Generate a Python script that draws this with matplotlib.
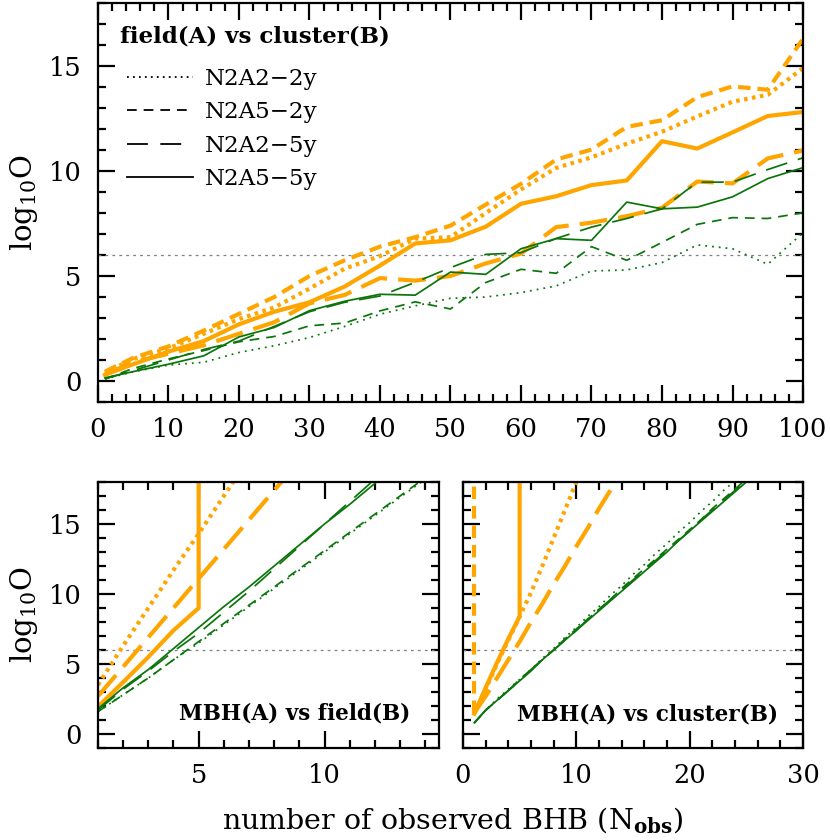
import matplotlib
matplotlib.use("Agg")
import matplotlib.pyplot as plt
from matplotlib.lines import Line2D
from matplotlib.ticker import MultipleLocator

plt.rcParams['font.family'] = ['DejaVu Serif']
plt.rcParams['lines.scale_dashes'] = False
plt.rcParams['mathtext.fontset'] = 'dejavuserif'

ORANGE = '#FFA500'
GREEN = '#0b750b'

# ---------------- data: top panel (field vs cluster) ----------------
top_x = [1, 5, 10, 15, 20, 25, 30, 35, 40, 45, 50, 55, 60, 65, 70, 75, 80, 85, 90, 95, 100]
top_or_n2a2_2y = [0.4, 1.05, 1.55, 2.25, 2.95, 3.5, 4.4, 5.35, 5.95, 6.78, 6.85, 8.0, 9.12, 10.15, 10.65, 11.3, 11.87, 12.6, 13.3, 13.63, 14.9]
top_or_n2a5_2y = [0.45, 1.1, 1.65, 2.4, 3.2, 4.0, 5.0, 5.75, 6.4, 6.85, 7.4, 8.4, 9.39, 10.55, 11.02, 12.1, 12.42, 13.52, 14.03, 13.87, 16.3]
top_or_n2a2_5y = [0.3, 0.9, 1.3, 1.7, 2.25, 2.8, 3.7, 4.1, 4.9, 4.78, 5.0, 5.6, 6.07, 7.33, 7.54, 7.85, 8.25, 9.5, 9.41, 10.6, 10.98]
top_or_n2a5_5y = [0.3, 0.8, 1.4, 1.9, 2.7, 3.3, 3.75, 4.5, 5.5, 6.55, 6.7, 7.35, 8.44, 8.8, 9.33, 9.55, 11.42, 11.07, 11.84, 12.62, 12.81]
top_gr_n2a2_2y = [0.1, 0.44, 0.76, 0.89, 1.36, 1.68, 2.07, 2.6, 3.18, 3.58, 3.94, 4.0, 4.21, 4.53, 5.24, 5.29, 5.64, 6.48, 6.3, 5.56, 7.06]
top_gr_n2a5_2y = [0.1, 0.6, 1.05, 1.45, 1.87, 2.12, 2.63, 2.76, 3.34, 3.77, 3.43, 4.69, 5.32, 5.13, 6.4, 5.75, 6.6, 7.46, 7.78, 7.74, 8.01]
top_gr_n2a2_5y = [0.1, 0.5, 1.0, 1.5, 1.9, 2.6, 3.3, 3.75, 4.05, 4.7, 5.4, 6.03, 6.11, 6.79, 7.33, 7.74, 8.2, 9.47, 9.47, 10.07, 10.63]
top_gr_n2a5_5y = [0.15, 0.45, 0.8, 1.2, 2.1, 2.55, 3.35, 3.8, 4.13, 4.09, 5.19, 5.08, 6.3, 6.78, 6.7, 8.52, 8.2, 8.28, 8.77, 9.64, 10.16]

# ---------------- data: bottom-left (MBH vs field) ----------------
bl_or_n2a2_2y_x = [1, 2, 3, 4, 5, 6, 7]
bl_or_n2a2_2y = [3.5, 6.3, 9.0, 11.7, 14.3, 17.0, 19.7]
bl_or_n2a2_5y_x = [1, 2, 3, 4, 5, 6, 7, 8, 9]
bl_or_n2a2_5y = [2.7, 4.8, 6.9, 9.0, 11.1, 13.2, 15.3, 17.4, 19.5]
bl_or_n2a5_5y_x = [1, 2, 3, 4, 5, 5]
bl_or_n2a5_5y = [1.95, 3.7, 5.5, 7.4, 9.0, 40.0]
bl_gr_x = [1, 2, 3, 4, 5, 6, 7, 8, 9, 10, 11, 12, 13, 14]
bl_gr_n2a2_2y = [1.6, 2.8, 4.0, 5.3, 6.5, 7.8, 9.1, 10.4, 11.7, 13.0, 14.3, 15.6, 16.9, 18.2]
bl_gr_n2a5_2y = [1.6, 2.8, 4.0, 5.3, 6.6, 7.9, 9.2, 10.5, 11.8, 13.1, 14.4, 15.7, 17.0, 18.3]
bl_gr_n2a2_5y = [1.7, 3.2, 4.5, 5.9, 7.2, 8.7, 10.2, 11.8, 13.4, 15.0, 16.6, 18.2, 19.8, 21.4]
bl_gr_n2a5_5y = [1.8, 3.3, 4.6, 6.1, 7.6, 9.1, 10.5, 12.0, 13.5, 15.0, 16.4, 17.9, 19.4, 20.9]

# ---------------- data: bottom-right (MBH vs cluster) ----------------
br_or_n2a2_2y_x = [1, 2, 3, 4, 5, 6, 7, 8, 9, 10, 11]
br_or_n2a2_2y = [1.5, 3.2, 5.0, 6.7, 8.4, 10.1, 12.0, 14.0, 16.0, 18.0, 20.0]
br_or_n2a5_2y_x = [1, 1]
br_or_n2a5_2y = [1.5, 40.0]
br_or_n2a2_5y_x = [1, 2, 3, 4, 5, 6, 7, 8, 9, 10, 11, 12, 13, 14]
br_or_n2a2_5y = [1.5, 2.7, 4.0, 5.3, 6.6, 8.0, 9.3, 10.7, 12.0, 13.4, 14.7, 16.1, 17.4, 18.8]
br_or_n2a5_5y_x = [1, 2, 3, 4, 5, 5]
br_or_n2a5_5y = [1.45, 3.3, 5.1, 6.8, 8.4, 40.0]
br_gr_x = [1, 2, 3, 4, 5, 6, 7, 8, 9, 10, 11, 12, 13, 14, 15, 16, 17, 18, 19, 20, 21, 22, 23, 24, 25, 26]
br_gr_n2a2_2y = [0.8, 1.7, 2.5, 3.2, 3.9, 4.6, 5.4, 6.1, 6.9, 7.6, 8.4, 9.1, 9.9, 10.6, 11.4, 12.1, 12.9, 13.6, 14.4, 15.1, 15.9, 16.6, 17.4, 18.1, 18.9, 19.6]
br_gr_n2a5_2y = [0.8, 1.7, 2.4, 3.1, 3.9, 4.6, 5.3, 6.0, 6.8, 7.5, 8.2, 8.9, 9.6, 10.4, 11.1, 11.8, 12.5, 13.2, 13.9, 14.6, 15.3, 16.1, 16.8, 17.5, 18.2, 18.9]
br_gr_n2a2_5y = [0.8, 1.7, 2.4, 3.1, 3.8, 4.6, 5.3, 6.0, 6.7, 7.4, 8.2, 8.9, 9.6, 10.3, 11.0, 11.7, 12.4, 13.1, 13.8, 14.5, 15.3, 16.0, 16.7, 17.4, 18.1, 18.8]
br_gr_n2a5_5y = [0.8, 1.7, 2.4, 3.1, 3.8, 4.5, 5.3, 6.0, 6.7, 7.4, 8.1, 8.8, 9.5, 10.2, 10.9, 11.6, 12.3, 13.0, 13.8, 14.5, 15.2, 15.9, 16.6, 17.3, 18.0, 18.7]

legend_title = 'field(A) vs cluster(B)'
legend_labels = ['N2A2\u22122y', 'N2A5\u22122y', 'N2A2\u22125y', 'N2A5\u22125y']
threshold = 6

# ---------------- styles ----------------
LW_OR = 3.0
LW_GR = 1.25
ST_OR = {'dot': (0, (2.6, 3.2)), 'short': (0, (9, 5)), 'long': (0, (20, 8)), 'solid': '-'}
ST_GR = {'dot': (0, (1.3, 3.6)), 'short': (0, (7, 5)), 'long': (0, (16, 8)), 'solid': '-'}
ST_LEG = {'dot': (0, (1.3, 3.0)), 'short': (0, (7, 5)), 'long': (0, (15, 9)), 'solid': '-'}

fig = plt.figure(figsize=(8.3, 8.4), dpi=100)
ax_top = fig.add_axes([0.118, 0.5214, 0.8495, 0.4750])
ax_bl = fig.add_axes([0.118, 0.1095, 0.411, 0.3167])
ax_br = fig.add_axes([0.5578, 0.1095, 0.4097, 0.3167])

TICKFS = 18.5
YLABFS = 21


def style_axis(ax, xmaj, xmin, ymaj=5, ymin=1, ylabels=True):
    ax.xaxis.set_major_locator(MultipleLocator(xmaj))
    ax.xaxis.set_minor_locator(MultipleLocator(xmin))
    ax.yaxis.set_major_locator(MultipleLocator(ymaj))
    ax.yaxis.set_minor_locator(MultipleLocator(ymin))
    ax.tick_params(which='both', direction='in', top=True, right=True, width=1.6,
                   labelsize=TICKFS)
    ax.tick_params(axis='x', which='major', pad=11)
    ax.tick_params(axis='y', which='major', pad=12)
    ax.tick_params(which='major', length=12)
    ax.tick_params(which='minor', length=5.5)
    if not ylabels:
        ax.tick_params(labelleft=False)
    for s in ax.spines.values():
        s.set_linewidth(1.6)


# ---- top panel ----
ax = ax_top
ax.axhline(threshold, color='gray', lw=0.9, ls=(0, (2, 3)))
ax.plot(top_x, top_or_n2a2_2y, color=ORANGE, lw=LW_OR, ls=ST_OR['dot'])
ax.plot(top_x, top_or_n2a5_2y, color=ORANGE, lw=LW_OR, ls=ST_OR['short'])
ax.plot(top_x, top_or_n2a2_5y, color=ORANGE, lw=LW_OR, ls=ST_OR['long'])
ax.plot(top_x, top_or_n2a5_5y, color=ORANGE, lw=LW_OR, ls=ST_OR['solid'])
ax.plot(top_x, top_gr_n2a2_2y, color=GREEN, lw=LW_GR, ls=ST_GR['dot'])
ax.plot(top_x, top_gr_n2a5_2y, color=GREEN, lw=LW_GR, ls=ST_GR['short'])
ax.plot(top_x, top_gr_n2a2_5y, color=GREEN, lw=LW_GR, ls=ST_GR['long'])
ax.plot(top_x, top_gr_n2a5_5y, color=GREEN, lw=LW_GR, ls=ST_GR['solid'])
ax.set_xlim(0, 100)
ax.set_ylim(-1, 18)
style_axis(ax, 10, 2)
ax.set_ylabel('log$_{10}$O', fontsize=YLABFS, labelpad=6)

ax.text(0.031, 0.915, legend_title, transform=ax.transAxes, ha='left', va='center',
        fontsize=16.5, weight='bold')
handles = [Line2D([], [], color='black', lw=1.3, ls=ST_LEG[k]) for k in ['dot', 'short', 'long', 'solid']]
leg = ax.legend(handles, legend_labels, loc='upper left', frameon=False, fontsize=16.5,
                handlelength=2.9, handletextpad=0.5, labelspacing=0.5,
                borderaxespad=0.0, borderpad=0.0, bbox_to_anchor=(0.041, 0.838))

# ---- bottom-left ----
ax = ax_bl
ax.axhline(threshold, color='gray', lw=0.9, ls=(0, (2, 3)))
ax.plot(bl_or_n2a2_2y_x, bl_or_n2a2_2y, color=ORANGE, lw=LW_OR, ls=ST_OR['dot'])
ax.plot(bl_or_n2a2_5y_x, bl_or_n2a2_5y, color=ORANGE, lw=LW_OR, ls=ST_OR['long'])
ax.plot(bl_or_n2a5_5y_x, bl_or_n2a5_5y, color=ORANGE, lw=LW_OR, ls=ST_OR['solid'])
ax.plot(bl_gr_x, bl_gr_n2a2_2y, color=GREEN, lw=LW_GR, ls=ST_GR['dot'])
ax.plot(bl_gr_x, bl_gr_n2a5_2y, color=GREEN, lw=LW_GR, ls=ST_GR['short'])
ax.plot(bl_gr_x, bl_gr_n2a2_5y, color=GREEN, lw=LW_GR, ls=ST_GR['long'])
ax.plot(bl_gr_x, bl_gr_n2a5_5y, color=GREEN, lw=LW_GR, ls=ST_GR['solid'])
ax.set_xlim(1, 14.55)
ax.set_ylim(-1, 18)
style_axis(ax, 5, 1)
ax.set_ylabel('log$_{10}$O', fontsize=YLABFS, labelpad=6)
ax.text(0.915, 0.13, 'MBH(A) vs field(B)', transform=ax.transAxes, ha='right', va='center',
        fontsize=15.5, weight='bold')

# ---- bottom-right ----
ax = ax_br
ax.axhline(threshold, color='gray', lw=0.9, ls=(0, (2, 3)))
ax.plot(br_or_n2a2_2y_x, br_or_n2a2_2y, color=ORANGE, lw=LW_OR, ls=ST_OR['dot'])
ax.plot(br_or_n2a5_2y_x, br_or_n2a5_2y, color=ORANGE, lw=LW_OR, ls=ST_OR['short'])
ax.plot(br_or_n2a2_5y_x, br_or_n2a2_5y, color=ORANGE, lw=LW_OR, ls=ST_OR['long'])
ax.plot(br_or_n2a5_5y_x, br_or_n2a5_5y, color=ORANGE, lw=LW_OR, ls=ST_OR['solid'])
ax.plot(br_gr_x, br_gr_n2a2_2y, color=GREEN, lw=LW_GR, ls=ST_GR['dot'])
ax.plot(br_gr_x, br_gr_n2a5_2y, color=GREEN, lw=LW_GR, ls=ST_GR['short'])
ax.plot(br_gr_x, br_gr_n2a2_5y, color=GREEN, lw=LW_GR, ls=ST_GR['long'])
ax.plot(br_gr_x, br_gr_n2a5_5y, color=GREEN, lw=LW_GR, ls=ST_GR['solid'])
ax.set_xlim(0, 30)
ax.set_ylim(-1, 18)
style_axis(ax, 10, 2, ylabels=False)
ax.text(0.925, 0.125, 'MBH(A) vs cluster(B)', transform=ax.transAxes, ha='right', va='center',
        fontsize=15.5, weight='bold')

fig.text(0.545, 0.024, 'number of observed BHB (N$_{\\mathbf{obs}}$)', ha='center', va='center', fontsize=20.5)

fig.savefig('out.png', dpi=100)
